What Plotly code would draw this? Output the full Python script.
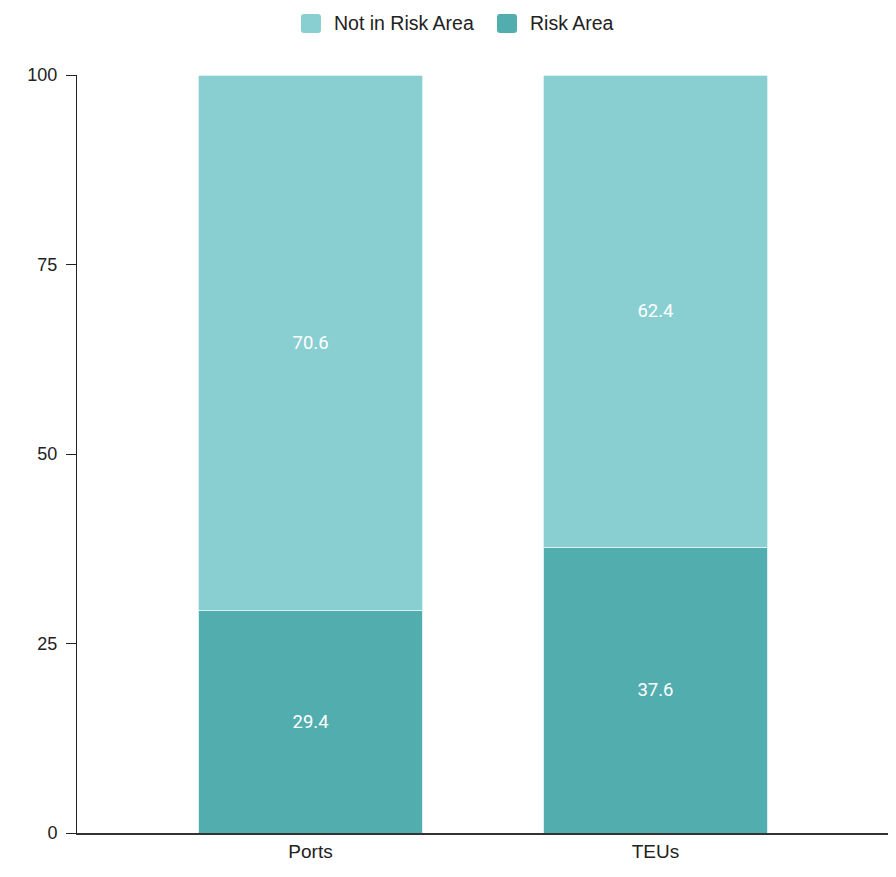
import plotly.graph_objects as go

categories = ["Ports", "TEUs"]
risk_area = [29.4, 37.6]
not_in_risk_area = [70.6, 62.4]
y_ticks = [0, 25, 50, 75, 100]
series_names = ["Not in Risk Area", "Risk Area"]
series_colors = ["#89CFD1", "#52ADAE"]

FONT = "Liberation Sans, Arial, sans-serif"
LABEL_FONT = "Roboto, Liberation Sans, sans-serif"
fig = go.Figure()
fig.add_trace(go.Bar(
    x=categories, y=risk_area, name=series_names[1],
    marker=dict(color=series_colors[1], line=dict(color="#D8F0F0", width=1)),
    text=[f"{v:.1f}" for v in risk_area], textposition="inside",
    insidetextanchor="middle", textfont=dict(color="white", size=18.5, family=LABEL_FONT),
    width=0.652, hoverinfo="skip", showlegend=False,
))
fig.add_trace(go.Bar(
    x=categories, y=not_in_risk_area, name=series_names[0],
    marker=dict(color=series_colors[0], line=dict(color="#D8F0F0", width=1)),
    text=[f"{v:.1f}" for v in not_in_risk_area], textposition="inside",
    insidetextanchor="middle", textfont=dict(color="white", size=18.5, family=LABEL_FONT),
    width=0.652, hoverinfo="skip", showlegend=False,
))

# custom legend (rounded squares + text)
sq = "M-10,-6.5 Q-10,-9.5 -7,-9.5 L7,-9.5 Q10,-9.5 10,-6.5 L10,6.5 Q10,9.5 7,9.5 L-7,9.5 Q-10,9.5 -10,6.5 Z"
legend_x = [0.2878, 0.5289]
legend_y = 1.068
for name, color, lx in zip(series_names, series_colors, legend_x):
    fig.add_shape(type="path", path=sq, xref="paper", yref="paper",
                  xsizemode="pixel", ysizemode="pixel", xanchor=lx, yanchor=legend_y,
                  fillcolor=color, line=dict(width=0))
    fig.add_annotation(text=name, xref="paper", yref="paper", x=lx + 21 / 813,
                       y=legend_y, xanchor="left", yanchor="middle", showarrow=False,
                       font=dict(size=19.5, color="#222222", family=FONT))

fig.update_layout(
    barmode="stack",
    barcornerradius=4,
    width=888, height=869,
    margin=dict(l=69, r=6, t=67, b=44),
    plot_bgcolor="white", paper_bgcolor="white",
    font=dict(family=FONT, size=18, color="#222222"),
    showlegend=False,
    uniformtext=dict(mode="show", minsize=10),
)
fig.update_xaxes(range=[-0.677, 1.68], showline=True, linecolor="#333333", linewidth=2,
                 ticks="", showgrid=False, zeroline=False, automargin=False,
                 tickfont=dict(size=19, color="#222222"))
fig.update_yaxes(range=[0, 100], tickvals=y_ticks, showline=True, linecolor="#222222",
                 linewidth=1, ticks="outside", ticklen=10, tickcolor="#222222",
                 showgrid=False, zeroline=False, ticklabelstandoff=5, automargin=False,
                 tickfont=dict(size=18, color="#222222"))
fig.write_html("out.html")
